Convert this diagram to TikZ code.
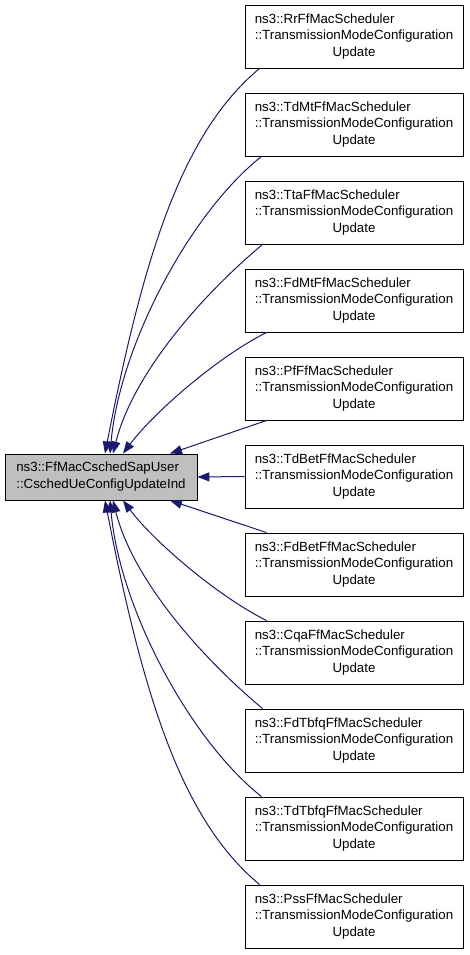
\documentclass[tikz,border=0pt]{standalone}
\usepackage{fontspec}
\setmainfont{Liberation Sans}
\usetikzlibrary{arrows.meta}
\definecolor{edgecol}{HTML}{191970}
\definecolor{boxgray}{HTML}{BFBFBF}
\newcommand{\schedtext}[1]{\raisebox{-2pt}{\begin{tabular}{@{}l@{}}ns3::#1\\::TransmissionModeConfiguration\\\multicolumn{1}{@{}c@{}}{Update}\end{tabular}}}
\tikzset{
  rbox/.style={draw=black, line width=0.9pt, fill=white, minimum width=218pt, minimum height=63pt, inner sep=0pt,
    font=\fontsize{13.3}{16.5}\selectfont},
  lbox/.style={draw=black, line width=0.9pt, fill=boxgray, minimum width=192pt, minimum height=46pt, inner sep=0pt,
    font=\fontsize{13.3}{17}\selectfont},
  edge/.style={draw=edgecol, line width=1pt, -{Triangle[length=12pt,width=9pt]}, fill=none},
}
\begin{document}
\begin{tikzpicture}[x=1pt,y=-1pt]
\useasboundingbox (0,0) rectangle (469,955);
\node[lbox] (l) at (101,477) {\raisebox{-2pt}{\begin{tabular}{@{}l@{}}ns3::FfMacCschedSapUser\\::CschedUeConfigUpdateInd\end{tabular}}};
\node[rbox] (r0) at (354,36.5) {\schedtext{RrFfMacScheduler}};
\node[rbox] (r1) at (354,124.5) {\schedtext{TdMtFfMacScheduler}};
\node[rbox] (r2) at (354,212.5) {\schedtext{TtaFfMacScheduler}};
\node[rbox] (r3) at (354,300.5) {\schedtext{FdMtFfMacScheduler}};
\node[rbox] (r4) at (354,388.5) {\schedtext{PfFfMacScheduler}};
\node[rbox] (r5) at (354,476.5) {\schedtext{TdBetFfMacScheduler}};
\node[rbox] (r6) at (354,564.5) {\schedtext{FdBetFfMacScheduler}};
\node[rbox] (r7) at (354,652.5) {\schedtext{CqaFfMacScheduler}};
\node[rbox] (r8) at (354,740.5) {\schedtext{FdTbfqFfMacScheduler}};
\node[rbox] (r9) at (354,828.5) {\schedtext{TdTbfqFfMacScheduler}};
\node[rbox] (r10) at (354,916.5) {\schedtext{PssFfMacScheduler}};
% upper edges
\draw[edge] ([xshift=15pt]r0.south west) .. controls +(-77,64) and +(39,-200) .. ([xshift=4pt]l.north);
\draw[edge] ([xshift=17pt]r1.south west) .. controls +(-70,55) and +(10,-110) .. ([xshift=9pt]l.north);
\draw[edge] ([xshift=18pt]r2.south west) .. controls +(-60,50) and +(20,-80) .. ([xshift=12pt]l.north);
\draw[edge] ([xshift=22pt]r3.south west) .. controls +(-50,25) and +(30,-40) .. ([xshift=22pt]l.north);
\draw[edge] ([xshift=22pt]r4.south west) -- ([xshift=69pt]l.north);
% middle edge
\draw[edge] (r5.west) -- (l.east);
% lower edges
\draw[edge] ([xshift=22pt]r6.north west) -- ([xshift=69pt]l.south);
\draw[edge] ([xshift=22pt]r7.north west) .. controls +(-50,-25) and +(30,40) .. ([xshift=22pt]l.south);
\draw[edge] ([xshift=18pt]r8.north west) .. controls +(-60,-50) and +(20,80) .. ([xshift=12pt]l.south);
\draw[edge] ([xshift=17pt]r9.north west) .. controls +(-70,-55) and +(10,110) .. ([xshift=9pt]l.south);
\draw[edge] ([xshift=15pt]r10.north west) .. controls +(-77,-64) and +(39,200) .. ([xshift=4pt]l.south);
\end{tikzpicture}
\end{document}
